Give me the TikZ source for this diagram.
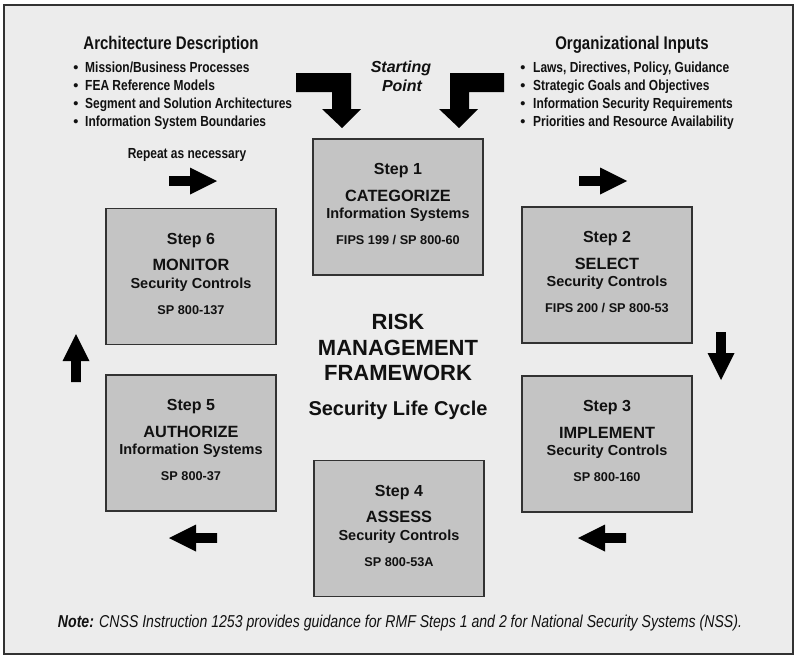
\documentclass[tikz,border=0pt]{standalone}
\usepackage{fontspec}
\setmainfont{Liberation Sans}
\newfontfamily\narrowfont{Liberation Sans}[FakeStretch=0.82]
\definecolor{bgc}{RGB}{236,236,236}
\definecolor{boxc}{RGB}{196,196,196}
\definecolor{linec}{RGB}{50,50,50}
\definecolor{txt}{RGB}{17,17,17}
\tikzset{
  frame/.style={draw=linec, fill=bgc, line width=1.4pt, minimum width=789pt, minimum height=649pt, inner sep=0pt},
  stepbox/.style={draw=linec, fill=boxc, line width=1.4pt, minimum width=170pt, minimum height=136pt, inner sep=0pt},
  basetxt/.style={anchor=base, inner sep=0pt, text=txt},
  stepa/.style={basetxt, font=\fontsize{16}{19}\selectfont\bfseries},
  stepb/.style={basetxt, font=\fontsize{16.3}{19}\selectfont\bfseries},
  stepc/.style={basetxt, font=\fontsize{14.5}{17}\selectfont\bfseries},
  stepd/.style={basetxt, font=\fontsize{12.7}{15}\selectfont\bfseries},
  rmf/.style={basetxt, font=\fontsize{22}{26}\selectfont\bfseries},
  lifec/.style={basetxt, font=\fontsize{20}{24}\selectfont\bfseries},
  heading/.style={basetxt, font=\narrowfont\fontsize{18.3}{22}\selectfont\bfseries},
  listtxt/.style={anchor=base west, inner sep=0pt, text=txt, font=\narrowfont\fontsize{14.6}{18}\selectfont\bfseries},
  bullet/.style={anchor=base, inner sep=0pt, text=txt, font=\fontsize{14.5}{17}\selectfont\bfseries},
  startxt/.style={basetxt, font=\fontsize{16}{19}\selectfont\bfseries\itshape},
  notetxt/.style={basetxt, font=\narrowfont\fontsize{17.2}{20}\selectfont\itshape},
  blockarrow/.pic={\fill[black] (0,0) -- (-27,-13.5) -- (-27,-4.8) -- (-48,-4.8) -- (-48,4.8) -- (-27,4.8) -- (-27,13.5) -- cycle;}
}
\newcommand\stepcontent[5]{%
  \node[stepa] (#1-a) at ([yshift=-36.2pt]#1.north) {#2};
  \node[stepb] (#1-b) at ([yshift=-62.8pt]#1.north) {#3};
  \node[stepc] (#1-c) at ([yshift=-80.2pt]#1.north) {#4};
  \node[stepd] (#1-d) at ([yshift=-106.5pt]#1.north) {#5};
}
\begin{document}
\begin{tikzpicture}[x=1pt,y=-1pt]
\useasboundingbox (0,0) rectangle (800,661);
\fill[white] (0,0) rectangle (800,661);
\node[frame] (frame) at (398.5,329.5) {};

% headings and lists
\node[heading] (archhead) at (171,50) {Architecture Description};
\node[heading] (orghead) at (632,50) {Organizational Inputs};
\foreach \t [count=\i] in {Mission/Business Processes, FEA Reference Models, Segment and Solution Architectures, Information System Boundaries}{
  \node[bullet] (ab\i) at (76,{54+18*\i}) {\textbullet};
  \node[listtxt] (al\i) at (85,{54+18*\i}) {\t};
}
\foreach \t [count=\i] in {{Laws, Directives, Policy, Guidance}, Strategic Goals and Objectives, Information Security Requirements, Priorities and Resource Availability}{
  \node[bullet] (ob\i) at (523,{54+18*\i}) {\textbullet};
  \node[listtxt] (ol\i) at (533,{54+18*\i}) {\t};
}

% starting point
\node[startxt] (start1) at (401,73) {Starting};
\node[startxt] (start2) at (402,91) {Point};
\fill[black] (296,73) -- (351,73) -- (351,109) -- (361,109) -- (342,128) -- (322,109) -- (332,109) -- (332,92) -- (296,92) -- cycle;
\fill[black] (504,73) -- (450,73) -- (450,109) -- (439,109) -- (459,128) -- (478,109) -- (469,109) -- (469,92) -- (504,92) -- cycle;

% repeat
\node[listtxt, anchor=base] (repeat) at (187,158) {Repeat as necessary};

% step boxes
\node[stepbox] (s1) at (398,207) {};
\node[stepbox] (s2) at (607,275) {};
\node[stepbox] (s3) at (607,444) {};
\node[stepbox] (s4) at (399,528.5) {};
\node[stepbox] (s5) at (191,443) {};
\node[stepbox] (s6) at (191,276.5) {};
\stepcontent{s1}{Step 1}{CATEGORIZE}{Information Systems}{FIPS 199 / SP 800-60}
\stepcontent{s2}{Step 2}{SELECT}{Security Controls}{FIPS 200 / SP 800-53}
\stepcontent{s3}{Step 3}{IMPLEMENT}{Security Controls}{SP 800-160}
\stepcontent{s4}{Step 4}{ASSESS}{Security Controls}{SP 800-53A}
\stepcontent{s5}{Step 5}{AUTHORIZE}{Information Systems}{SP 800-37}
\stepcontent{s6}{Step 6}{MONITOR}{Security Controls}{SP 800-137}

% centre
\node[rmf] (risk) at (398,329) {RISK};
\node[rmf] (mgmt) at (398,355) {MANAGEMENT};
\node[rmf] (fw) at (398,380) {FRAMEWORK};
\node[lifec] (life) at (398,415) {Security Life Cycle};

% cycle arrows
\pic at (217,181) {blockarrow};
\pic at (627,181) {blockarrow};
\pic[rotate=-90] at (721,380) {blockarrow};
\pic[rotate=180] at (578,538) {blockarrow};
\pic[rotate=180] at (169,538) {blockarrow};
\pic[rotate=90] at (76,334) {blockarrow};

% note
\node[notetxt] (note) at (400,627) {\textbf{Note:} CNSS Instruction 1253 provides guidance for RMF Steps 1 and 2 for National Security Systems (NSS).};
\end{tikzpicture}
\end{document}
